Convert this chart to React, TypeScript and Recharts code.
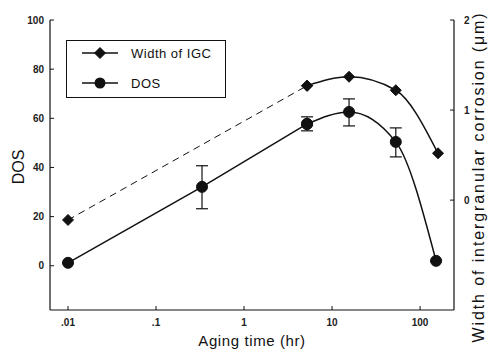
import React from 'react';
import { LineChart, Line, XAxis, YAxis, ErrorBar, Legend } from 'recharts';

const FONT = '"Liberation Sans", Arial, Helvetica, sans-serif';
const INK = '#111';

// Axis ticks
const xTicks = [0.01, 0.1, 1, 10, 100];
const xTickLabels = ['.01', '.1', '1', '10', '100'];
const dosTicks = [0, 20, 40, 60, 80, 100];
const widthTicks = [0, 1, 2];

// Width of IGC (um, right axis)
const widthHoursDashed = [0.01, 5.2];
const widthValuesDashed = [-0.22, 1.27];
const widthHoursSolid = [5.2, 15.6, 53, 160];
const widthValuesSolid = [1.27, 1.37, 1.22, 0.52];

// DOS (left axis)
const dosHoursLinear = [0.01, 0.333, 5.2];
const dosValuesLinear = [1.2, 32.1, 57.7];
const dosErrLinear = [[0, 0], [8.9, 8.6], [0, 0]];
const dosHoursCurve = [5.2, 15.6, 53, 152];
const dosValuesCurve = [57.7, 62.6, 50.4, 2.0];
const dosErrCurve = [[2.8, 2.9], [5.7, 5.3], [6.1, 5.7], [0, 0]];

const build = (xs: number[], ys: number[], errs?: number[][]) =>
  xs.map((x, i) => ({ x, y: ys[i], err: errs ? errs[i] : [0, 0] }));

const widthDashed = build(widthHoursDashed, widthValuesDashed);
const widthSolid = build(widthHoursSolid, widthValuesSolid);
const dosLinear = build(dosHoursLinear, dosValuesLinear, dosErrLinear);
const dosCurve = build(dosHoursCurve, dosValuesCurve, dosErrCurve);

const Diamond = ({ cx, cy, r = 5.5 }: any) => (
  <polygon
    points={`${cx},${cy - r} ${cx + r},${cy} ${cx},${cy + r} ${cx - r},${cy}`}
    fill={INK}
    stroke={INK}
    strokeWidth={1}
  />
);

const diamondDot = (p: any) => (
  <Diamond key={`d-${p.index}`} cx={p.cx} cy={p.cy} />
);
const circleDot = (p: any) => (
  <circle key={`c-${p.index}`} cx={p.cx} cy={p.cy} r={5.5} fill={INK} stroke={INK} />
);

const XTick = (props: any) => {
  const { x, y, payload } = props;
  const i = xTicks.indexOf(payload.value);
  return (
    <g>
      <line x1={x} x2={x} y1={y} y2={y - 4} stroke={INK} strokeWidth={1} />
      <text x={x} y={y + 16} textAnchor="middle" fontSize={10} fontWeight="bold" fill="#222" fontFamily={FONT}>
        {i >= 0 ? xTickLabels[i] : payload.value}
      </text>
    </g>
  );
};

const LeftTick = (props: any) => {
  const { x, y, payload } = props;
  return (
    <g>
      <line x1={x} x2={x + 4} y1={y} y2={y} stroke={INK} strokeWidth={1} />
      <text x={x - 6} y={y + 3.5} textAnchor="end" fontSize={10} fontWeight="bold" fill="#222" fontFamily={FONT}>
        {payload.value}
      </text>
    </g>
  );
};

const RightTick = (props: any) => {
  const { x, y, payload } = props;
  return (
    <g>
      <line x1={x} x2={x - 4} y1={y} y2={y} stroke={INK} strokeWidth={1} />
      <text x={x + 10} y={y + 3.5} textAnchor="start" fontSize={10} fontWeight="bold" fill="#222" fontFamily={FONT}>
        {payload.value}
      </text>
    </g>
  );
};

const LegendBox = () => (
  <div
    style={{
      width: 160,
      height: 58,
      border: `1.5px solid ${INK}`,
      boxSizing: 'border-box',
      background: '#fff',
      fontFamily: FONT,
    }}
  >
    <svg width={157} height={55} style={{ display: 'block' }}>
      <line x1={15} x2={51} y1={12} y2={12} stroke={INK} strokeWidth={1.5} />
      <Diamond cx={33} cy={12} r={5.5} />
      <text x={64} y={16.5} fontSize={13} fill="#111" letterSpacing={0.5}>Width of IGC</text>
      <line x1={15} x2={51} y1={42} y2={42} stroke={INK} strokeWidth={1.5} />
      <circle cx={33} cy={42} r={5.5} fill={INK} />
      <text x={64} y={46.5} fontSize={13} fill="#111" letterSpacing={0.5}>DOS</text>
    </svg>
  </div>
);

export default function App() {
  return (
    <div style={{ position: 'absolute', left: 0, top: 0, background: '#fff' }}>
      <LineChart width={492} height={354} margin={{ top: 20, right: 0, bottom: 0, left: 0 }}>
        <XAxis
          xAxisId="b"
          type="number"
          dataKey="x"
          scale="log"
          domain={[0.00624, 243]}
          allowDataOverflow
          ticks={xTicks}
          tick={<XTick />}
          tickSize={0}
          tickMargin={0}
          height={44}
          axisLine={{ stroke: INK, strokeWidth: 1.2 }}
          tickLine={false}
          label={{
            content: () => (
              <text x={252} y={346} textAnchor="middle" fontSize={15} fill="#111" fontFamily={FONT} letterSpacing={0.6}>
                Aging time (hr)
              </text>
            ),
          }}
        />
        <XAxis
          xAxisId="t"
          orientation="top"
          type="number"
          dataKey="x"
          scale="log"
          domain={[0.00624, 243]}
          allowDataOverflow
          height={0}
          tick={false}
          tickLine={false}
          axisLine={{ stroke: INK, strokeWidth: 1.2 }}
        />
        <YAxis
          yAxisId="l"
          type="number"
          domain={[-18, 100]}
          allowDataOverflow
          ticks={dosTicks}
          width={50}
          tick={<LeftTick />}
          tickSize={0}
          tickMargin={0}
          tickLine={false}
          axisLine={{ stroke: INK, strokeWidth: 1.2 }}
          label={{
            content: () => (
              <text
                x={0}
                y={0}
                transform="translate(24,167) rotate(-90)"
                textAnchor="middle"
                fontSize={16}
                fill="#111"
                fontFamily={FONT}
              >
                DOS
              </text>
            ),
          }}
        />
        <YAxis
          yAxisId="r"
          orientation="right"
          type="number"
          domain={[-1.22, 2]}
          allowDataOverflow
          ticks={widthTicks}
          width={38}
          tick={<RightTick />}
          tickSize={0}
          tickMargin={0}
          tickLine={false}
          axisLine={{ stroke: INK, strokeWidth: 1.2 }}
          label={{
            content: () => (
              <text
                x={0}
                y={0}
                transform="translate(484,177) rotate(-90)"
                textAnchor="middle"
                fontSize={16}
                fill="#111"
                fontFamily={FONT}
                letterSpacing={1.9}
              >
                Width of intergranular corrosion (μm)
              </text>
            ),
          }}
        />
        <Legend
          layout="horizontal"
          verticalAlign="middle"
          align="center"
          content={() => <LegendBox />}
          wrapperStyle={{ position: 'absolute', left: 66, top: 40, width: 160, height: 58, bottom: 'auto', right: 'auto' }}
        />
        <Line
          xAxisId="b"
          yAxisId="r"
          data={widthDashed}
          dataKey="y"
          type="linear"
          stroke={INK}
          strokeWidth={1}
          strokeDasharray="7 5"
          dot={diamondDot}
          isAnimationActive={false}
          legendType="none"
        />
        <Line
          xAxisId="b"
          yAxisId="r"
          data={widthSolid}
          dataKey="y"
          type="monotone"
          stroke={INK}
          strokeWidth={1.5}
          dot={diamondDot}
          isAnimationActive={false}
          legendType="none"
        />
        <Line
          xAxisId="b"
          yAxisId="l"
          data={dosLinear}
          dataKey="y"
          type="linear"
          stroke={INK}
          strokeWidth={1.5}
          dot={circleDot}
          isAnimationActive={false}
          legendType="none"
        >
          <ErrorBar dataKey="err" direction="y" width={6} stroke={INK} strokeWidth={1.2} />
        </Line>
        <Line
          xAxisId="b"
          yAxisId="l"
          data={dosCurve}
          dataKey="y"
          type="monotone"
          stroke={INK}
          strokeWidth={1.5}
          dot={circleDot}
          isAnimationActive={false}
          legendType="none"
        >
          <ErrorBar dataKey="err" direction="y" width={6} stroke={INK} strokeWidth={1.2} />
        </Line>
      </LineChart>
    </div>
  );
}
